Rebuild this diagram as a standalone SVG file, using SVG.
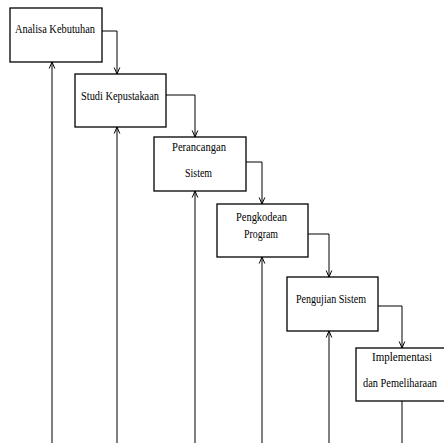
<svg xmlns="http://www.w3.org/2000/svg" width="444" height="443" viewBox="0 0 444 443">
<style>
.box{fill:#fff;stroke:#000;stroke-width:1.3}
.lbl{font-family:"Liberation Serif","DejaVu Serif","Times New Roman",serif;font-size:12px;fill:#000}
.con{fill:none;stroke:#000;stroke-width:1}
</style>
<defs>
<marker id="ah" viewBox="0 0 8 8" refX="7.5" refY="4" markerWidth="8" markerHeight="8" markerUnits="userSpaceOnUse" orient="auto">
<path d="M1,1.2 L7.5,4 L1,6.8" fill="none" stroke="#000" stroke-width="1"/>
</marker>
</defs>
<rect width="444" height="443" fill="#fff"/>
<g id="connectors">
<path class="con" d="M102,31 H117 V74" marker-end="url(#ah)"/>
<path class="con" d="M166,95 H195 V137" marker-end="url(#ah)"/>
<path class="con" d="M246,162 H262 V204" marker-end="url(#ah)"/>
<path class="con" d="M308,234 H329 V277" marker-end="url(#ah)"/>
<path class="con" d="M378,306 H402 V348" marker-end="url(#ah)"/>
<path class="con" d="M52,443 V62" marker-end="url(#ah)"/>
<path class="con" d="M117,443 V127" marker-end="url(#ah)"/>
<path class="con" d="M195,443 V191" marker-end="url(#ah)"/>
<path class="con" d="M262,443 V257" marker-end="url(#ah)"/>
<path class="con" d="M329,443 V331" marker-end="url(#ah)"/>
<path class="con" d="M402,401 V443"/>
</g>
<g id="n1">
<rect class="box" x="10" y="8" width="92" height="54"/>
<text class="lbl" x="15" y="33" textLength="80" lengthAdjust="spacingAndGlyphs">Analisa Kebutuhan</text>
</g>
<g id="n2">
<rect class="box" x="75" y="74" width="91" height="53"/>
<text class="lbl" x="81" y="100" textLength="78" lengthAdjust="spacingAndGlyphs">Studi Kepustakaan</text>
</g>
<g id="n3">
<rect class="box" x="154" y="137" width="92" height="54"/>
<text class="lbl" x="172" y="151" textLength="54" lengthAdjust="spacingAndGlyphs">Perancangan</text>
<text class="lbl" x="185" y="177" textLength="27" lengthAdjust="spacingAndGlyphs">Sistem</text>
</g>
<g id="n4">
<rect class="box" x="217" y="204" width="91" height="53"/>
<text class="lbl" x="236" y="221" textLength="51" lengthAdjust="spacingAndGlyphs">Pengkodean</text>
<text class="lbl" x="244" y="238" textLength="34" lengthAdjust="spacingAndGlyphs">Program</text>
</g>
<g id="n5">
<rect class="box" x="287" y="277" width="91" height="54"/>
<text class="lbl" x="296" y="303" textLength="70" lengthAdjust="spacingAndGlyphs">Pengujian Sistem</text>
</g>
<g id="n6">
<rect class="box" x="356" y="348" width="94" height="53"/>
<text class="lbl" x="372" y="361" textLength="60" lengthAdjust="spacingAndGlyphs">Implementasi</text>
<text class="lbl" x="363" y="387" textLength="74" lengthAdjust="spacingAndGlyphs">dan Pemeliharaan</text>
</g>
</svg>
